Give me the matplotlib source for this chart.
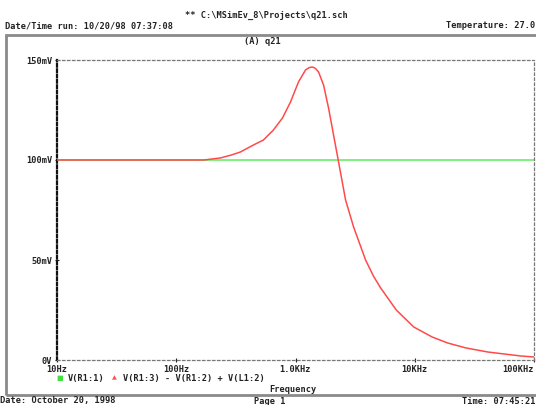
import matplotlib
matplotlib.use("Agg")
import matplotlib.pyplot as plt
from matplotlib.patches import Rectangle

# data (Hz, mV)
freq_r1 = [10, 100000]
v_r1 = [100, 100]

freq_sum = [10, 100, 170, 234, 290, 345, 444, 538, 653, 778, 908, 1059, 1213,
            1300, 1390, 1470, 1561, 1719, 1893, 2085, 2297, 2630, 3070, 3870,
            4500, 5180, 7000, 9810, 14000, 18900, 27000, 41000, 60000, 77800,
            100000]
v_sum = [100, 100, 100, 101, 102.5, 104, 107.5, 110, 115, 121, 129, 139, 145,
         146.2, 146.5, 145.8, 144, 137.5, 126, 112.5, 99, 80, 66.5, 50,
         42, 36, 25, 16.5, 11.5, 8.5, 6, 4, 2.8, 2, 1.5]

xticks = [10, 100, 1000, 10000, 100000]
xlabels = ["10Hz", "100Hz", "1.0KHz", "10KHz", "100KHz"]
yticks = [0, 50, 100, 150]
ylabels = ["0V", "50mV", "100mV", "150mV"]

W, H = 536, 405
fig = plt.figure(figsize=(W / 100, H / 100), dpi=100)
fig.patch.set_facecolor("white")

font = dict(family="DejaVu Sans Mono", fontweight="bold", fontsize=6.2, color="#222222")

ax = fig.add_axes([57 / W, 1 - 360 / H, (534 - 57) / W, 300 / H])
ax.plot(freq_r1, v_r1, color="#80f080", lw=1.4, zorder=2)
ax.plot(freq_sum, v_sum, color="#ff4a4a", lw=1.1, zorder=3)
ax.set_xscale("log")
ax.set_xlim(10, 100000)
ax.set_ylim(0, 150)
ax.set_xticks(xticks)
ax.set_xticklabels(xlabels, **font)
ax.get_xticklabels()[-1].set_ha("right")
ax.minorticks_off()
ax.set_yticks(yticks)
ax.set_yticklabels(ylabels, **font)
ax.tick_params(axis="both", length=3, width=0.8, direction="inout", pad=2, colors="#222222")

for side in ["top", "bottom", "right"]:
    ax.spines[side].set_linestyle((0, (2, 2)))
    ax.spines[side].set_color("#777777")
    ax.spines[side].set_linewidth(0.9)
ax.spines["left"].set_linestyle((0, (1.2, 1.2)))
ax.spines["left"].set_color("#111111")
ax.spines["left"].set_linewidth(1.6)

# outer page frame
fig.add_artist(Rectangle((6 / W, 1 - 395 / H), (545 - 6) / W, (395 - 35) / H,
                         transform=fig.transFigure, fill=False,
                         edgecolor="#8a8a8a", lw=2, clip_on=False))

# header / footer texts
fig.text(266 / W, 1 - 15 / H, r"** C:\MSimEv_8\Projects\q21.sch", ha="center", va="center", **font)
fig.text(5 / W, 1 - 26 / H, "Date/Time run: 10/20/98 07:37:08", ha="left", va="center", **font)
fig.text(535 / W, 1 - 26 / H, "Temperature: 27.0", ha="right", va="center", **font)
fig.text(262 / W, 1 - 42 / H, "(A) q21", ha="center", va="center", **font)

# legend
fig.text(60 / W, 1 - 378 / H, "\u25a0", color="#40e040", ha="center", va="center",
         fontsize=5, family="DejaVu Sans")
fig.text(68 / W, 1 - 378 / H, "V(R1:1)", ha="left", va="center", **font)
fig.text(114 / W, 1 - 378 / H, "\u25b2", color="#ff5050", ha="center", va="center",
         fontsize=4.5, family="DejaVu Sans")
fig.text(123 / W, 1 - 378 / H, "V(R1:3) - V(R1:2) + V(L1:2)", ha="left", va="center", **font)
fig.text(293 / W, 1 - 389 / H, "Frequency", ha="center", va="center", **font)

fig.text(0 / W, 1 - 401 / H, "Date: October 20, 1998", ha="left", va="center", **font)
fig.text(270 / W, 1 - 401 / H, "Page 1", ha="center", va="center", **font)
fig.text(535 / W, 1 - 401 / H, "Time: 07:45:21", ha="right", va="center", **font)

fig.savefig("out.png", dpi=100)
